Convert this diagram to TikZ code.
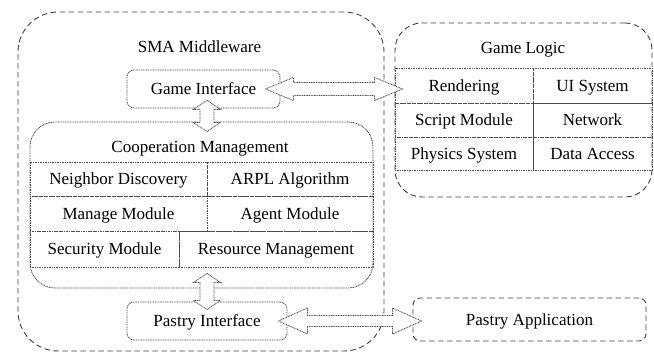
\documentclass[tikz,border=0pt]{standalone}
\usepackage{fontspec}
\setmainfont{Liberation Serif}
\usetikzlibrary{calc}

% hollow double-headed block arrows (horizontal / vertical), tips given as coordinates
\newcommand\hblockarrow[5]{% #1 left tip, #2 right tip, #3 shaft half, #4 head half, #5 head length
  \draw[blockarr] (#1) -- ++(#5,-#4) -- ++(0,#4-#3) -- ($(#2)+(-#5,-#3)$) -- ++(0,#3-#4)
    -- (#2) -- ++(-#5,#4) -- ++(0,#3-#4) -- ($(#1)+(#5,#3)$) -- ++(0,#4-#3) -- cycle;}
\newcommand\vblockarrow[5]{% #1 top tip, #2 bottom tip
  \draw[blockarr] (#1) -- ++(#4,#5) -- ++(#3-#4,0) -- ($(#2)+(#3,-#5)$) -- ++(#4-#3,0)
    -- (#2) -- ++(-#4,-#5) -- ++(#4-#3,0) -- ($(#1)+(-#3,#5)$) -- ++(#3-#4,0) -- cycle;}

\begin{document}
\begin{tikzpicture}[x=1pt,y=-1pt,
  font=\fontsize{17}{20}\selectfont,
  lbl/.style={text height=12pt, text depth=0.8pt, inner sep=0pt},
  dashbox/.style={draw=black!75, line width=0.9pt, dash pattern=on 5.5pt off 3.5pt, inner sep=0pt},
  dotbox/.style={draw=black!70, line width=0.8pt, dash pattern=on 1pt off 0.7pt, inner sep=0pt},
  cell/.style={dotbox, lbl},
  blockarr/.style={draw=black!70, line width=0.8pt, dash pattern=on 1pt off 0.7pt, fill=white},
]
\useasboundingbox (0,0) rectangle (654,352);

% SMA middleware frame
\node[dashbox, rounded corners=40pt, minimum width=366pt, minimum height=339pt] (sma) at (201,181.5) {};
\node[lbl] (smat) at (199.5,47) {SMA Middleware};

% game interface
\node[dotbox, lbl, rounded corners=7pt, minimum width=153pt, minimum height=38pt] (gi) at (203.5,89) {Game Interface};

% cooperation management
\node[dotbox, rounded corners=25pt, minimum width=343pt, minimum height=166pt] (cm) at (201.5,205) {};
\node[lbl] (cmt) at (200,146.5) {Cooperation Management};
\node[cell, minimum width=177pt, minimum height=34pt] (nd) at (118.5,179) {Neighbor Discovery};
\node[cell, minimum width=166pt, minimum height=34pt] (arpl) at (290,179) {ARPL Algorithm};
\node[cell, minimum width=177pt, minimum height=35pt] (mm) at (118.5,213.5) {Manage Module};
\node[cell, minimum width=166pt, minimum height=35pt] (am) at (290,213.5) {Agent Module};
\node[cell, minimum width=149pt, minimum height=36pt] (sm) at (104.5,249) {Security Module};
\node[cell, minimum width=194pt, minimum height=36pt] (rm) at (276,249) {Resource Management};

% pastry interface
\node[dotbox, lbl, rounded corners=7pt, minimum width=160pt, minimum height=38pt] (pi) at (207,321) {Pastry Interface};

% game logic
\node[dashbox, rounded corners=27pt, minimum width=257pt, minimum height=174pt] (gl) at (523.5,110) {};
\node[lbl] (glt) at (523,48.3) {Game Logic};
\node[cell, minimum width=138pt, minimum height=35pt] (rend) at (464,85.5) {Rendering};
\node[cell, minimum width=119pt, minimum height=35pt] (ui) at (592.5,85.5) {UI System};
\node[cell, minimum width=138pt, minimum height=34pt] (scr) at (464,120) {Script Module};
\node[cell, minimum width=119pt, minimum height=34pt] (net) at (592.5,120) {Network};
\node[cell, minimum width=138pt, minimum height=33pt] (phy) at (464,153.5) {Physics System};
\node[cell, minimum width=119pt, minimum height=33pt] (da) at (592.5,153.5) {Data Access};

% pastry application
\node[dashbox, lbl, rounded corners=7pt, minimum width=233pt, minimum height=43pt] (pa) at (529.5,319.5) {Pastry Application};

% connectors
\coordinate (h1l) at ($(gi.east)+(-15,0)$);
\coordinate (h1r) at ($(gl.west |- gi.east)+(8,0)$);
\hblockarrow{h1l}{h1r}{6.5}{11.5}{28}

\coordinate (v1t) at ($(gi.south)+(3.5,-8)$);
\coordinate (v1b) at ($(cm.north -| v1t)+(0,10)$);
\vblockarrow{v1t}{v1b}{7}{13.5}{9}

\coordinate (v2t) at ($(cm.south -| pi.north)+(0,-15)$);
\coordinate (v2b) at ($(pi.north)+(0,8)$);
\vblockarrow{v2t}{v2b}{7}{13.5}{9}

\coordinate (h2l) at ($(pi.east)+(-9,0)$);
\coordinate (h2r) at ($(pa.west |- pi.east)+(9,0)$);
\hblockarrow{h2l}{h2r}{5.5}{13}{29}
\end{tikzpicture}
\end{document}
